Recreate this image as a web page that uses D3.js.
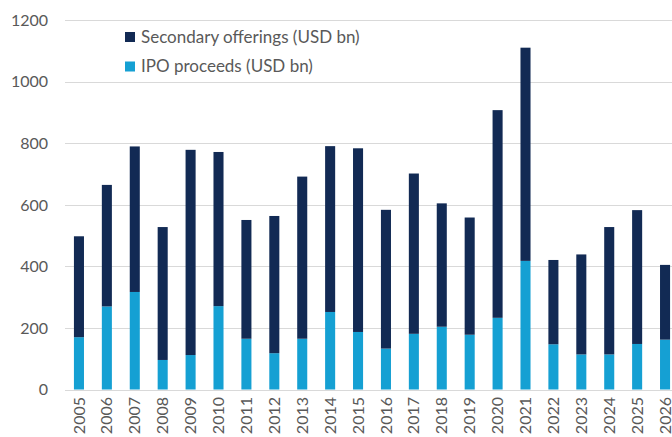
<!DOCTYPE html>
<html>
<head>
<meta charset="utf-8">
<script src="https://cdn.jsdelivr.net/npm/d3@7"></script>
<style>
  body { margin: 0; background: #fff; }
  text { font-family: Lato, "Open Sans", sans-serif; fill: #595959; }
</style>
</head>
<body>
<script>
// chart values
const years = ["2005","2006","2007","2008","2009","2010","2011","2012","2013","2014","2015",
               "2016","2017","2018","2019","2020","2021","2022","2023","2024","2025","2026"];
const ipo   = [170, 270, 317, 96, 112, 271, 165, 118, 165, 252, 187,
               133, 181, 204, 178, 233, 418, 147, 114, 114, 148, 162];
const total = [498, 665, 790, 528, 779, 772, 551, 564, 692, 791, 784,
               584, 702, 605, 559, 908, 1111, 421, 439, 528, 583, 405];
const secondary = total.map((t, i) => t - ipo[i]);
const yTicks = [0, 200, 400, 600, 800, 1000, 1200];
const legendItems = ["Secondary offerings (USD bn)", "IPO proceeds (USD bn)"];

const width = 672, height = 437;
const navy = "#122a54", blue = "#15a0d3";

const svg = d3.select("body").append("svg")
    .attr("width", width)
    .attr("height", height);

const x = d3.scaleBand()
    .domain(years)
    .range([65, 679])
    .paddingInner(0.64)
    .paddingOuter(0.32);

const y = d3.scaleLinear()
    .domain([0, 1200])
    .range([389.5, 20.3]);

// gridlines
svg.append("g")
    .selectAll("line")
    .data(yTicks)
    .join("line")
    .attr("x1", 65).attr("x2", width)
    .attr("y1", d => Math.round(y(d)) + 0.5)
    .attr("y2", d => Math.round(y(d)) + 0.5)
    .attr("stroke", "#d9d9d9")
    .attr("stroke-width", 1);

// y labels
svg.append("g")
    .selectAll("text")
    .data(yTicks)
    .join("text")
    .attr("x", 48)
    .attr("y", d => y(d))
    .attr("dy", "0.35em")
    .attr("text-anchor", "end")
    .style("font-size", "16px")
    .text(d => d);

// stacked bars
const stackData = years.map((yr, i) => ({ year: yr, ipo: ipo[i], secondary: secondary[i] }));
const series = d3.stack().keys(["ipo", "secondary"])(stackData);
const colors = { ipo: blue, secondary: navy };

svg.append("g")
    .selectAll("g")
    .data(series)
    .join("g")
    .attr("fill", d => colors[d.key])
    .selectAll("rect")
    .data(d => d)
    .join("rect")
    .attr("x", d => x(d.data.year))
    .attr("width", x.bandwidth())
    .attr("y", d => y(d[1]))
    .attr("height", d => y(d[0]) - y(d[1]));

// x labels, rotated
svg.append("g")
    .selectAll("text")
    .data(years)
    .join("text")
    .attr("transform", d => "translate(" + (x(d) + x.bandwidth() / 2) + ",397) rotate(-90)")
    .attr("dy", "0.35em")
    .attr("text-anchor", "end")
    .style("font-size", "16px")
    .text(d => d);

// legend
const legend = svg.append("g")
    .selectAll("g")
    .data(legendItems)
    .join("g")
    .attr("transform", (d, i) => "translate(125," + (32 + i * 29.5) + ")");

legend.append("rect")
    .attr("width", 10).attr("height", 10)
    .attr("fill", (d, i) => i === 0 ? navy : blue);

legend.append("text")
    .attr("x", 16)
    .attr("y", 5)
    .attr("dy", "0.35em")
    .style("font-size", "17px")
    .text(d => d);
</script>
</body>
</html>
